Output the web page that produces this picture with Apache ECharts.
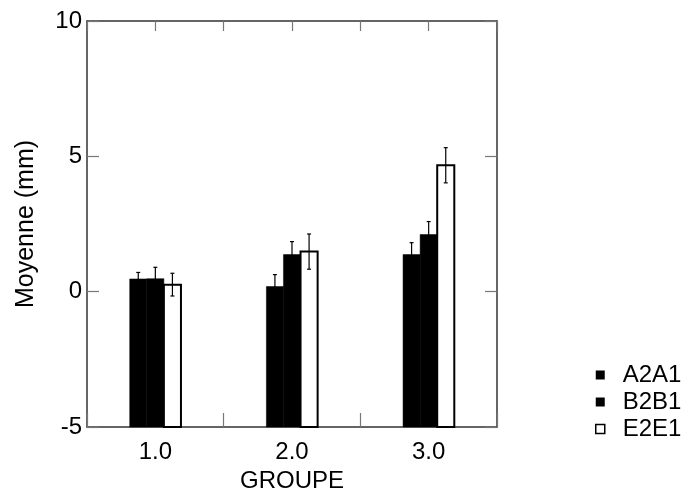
<!DOCTYPE html>
<html>
<head>
<meta charset="utf-8">
<script src="https://cdn.jsdelivr.net/npm/echarts@6/dist/echarts.min.js"></script>
<style>
  html, body { margin: 0; padding: 0; background: #fff; }
  #chart { width: 685px; height: 492px; }
</style>
</head>
<body>
<div id="chart"></div>
<script>
const categories = ['1.0', '2.0', '3.0'];
const seriesNames = ['A2A1', 'B2B1', 'E2E1'];
const a2a1 = [0.47, 0.19, 1.37];
const a2a1Err = [0.24, 0.44, 0.44];
const b2b1 = [0.48, 1.37, 2.11];
const b2b1Err = [0.42, 0.48, 0.48];
const e2e1 = [0.26, 1.48, 4.67];
const e2e1Err = [0.42, 0.65, 0.65];
const yTicks = [-5, 0, 5, 10];

const FONT = 'Liberation Sans, Arial, Helvetica, sans-serif';
const chart = echarts.init(document.getElementById('chart'));

function makeData(vals, errs) {
  return vals.map((v, i) => [i, v, errs[i]]);
}

function renderBar(params, api) {
  const cat = api.value(0), val = api.value(1), err = api.value(2);
  const band = api.size([1, 0])[0];
  const bw = band * 0.125;
  const top = api.coord([cat, val]);
  const base = api.coord([cat, -5]);
  const idx = params.seriesIndex;
  const x0 = top[0] + (idx - 1.5) * bw;
  const cx = x0 + bw / 2;
  const hi = api.coord([cat, val + err])[1];
  const lo = api.coord([cat, val - err])[1];
  const white = idx === 2;
  const cap = 2;
  return {
    type: 'group',
    children: [
      {
        type: 'rect',
        shape: { x: x0, y: top[1], width: bw, height: base[1] - top[1] },
        style: white
          ? { fill: '#fff', stroke: '#000', lineWidth: 2 }
          : { fill: '#000', stroke: '#000', lineWidth: 0.5 }
      },
      { type: 'line', shape: { x1: cx, y1: hi, x2: cx, y2: lo }, style: { stroke: '#000', lineWidth: 1.2 } },
      { type: 'line', shape: { x1: cx - cap, y1: hi, x2: cx + cap, y2: hi }, style: { stroke: '#000', lineWidth: 1.2 } },
      { type: 'line', shape: { x1: cx - cap, y1: lo, x2: cx + cap, y2: lo }, style: { stroke: '#000', lineWidth: 1.2 } }
    ]
  };
}

const axisLineStyle = { color: '#333', width: 1.5 };
const tickStyle = { color: '#777', width: 1.2 };

const option = {
  backgroundColor: '#fff',
  animation: false,
  textStyle: { fontFamily: FONT },
  grid: { left: 87, right: 188, top: 21, bottom: 65, containLabel: false, outerBoundsMode: 'none' },
  legend: {
    orient: 'vertical',
    left: 595,
    top: 363,
    padding: 0,
    icon: 'rect',
    itemWidth: 9,
    itemHeight: 9,
    itemGap: 3,
    selectedMode: false,
    textStyle: { fontFamily: FONT, fontSize: 24, color: '#000', lineHeight: 24, padding: [0, 0, 0, 13] },
    data: [
      { name: seriesNames[0], itemStyle: { color: '#000', borderWidth: 0 } },
      { name: seriesNames[1], itemStyle: { color: '#000', borderWidth: 0 } },
      { name: seriesNames[2], itemStyle: { color: '#fff', borderColor: '#000', borderWidth: 1.5 } }
    ]
  },
  xAxis: [
    {
      type: 'category',
      data: categories,
      position: 'bottom',
      name: 'GROUPE',
      nameLocation: 'middle',
      nameGap: 42,
      nameTextStyle: { fontFamily: FONT, fontSize: 24, color: '#000' },
      axisLine: { show: true, onZero: false, lineStyle: axisLineStyle },
      axisTick: { show: true, inside: true, length: 14, lineStyle: tickStyle },
      axisLabel: { fontFamily: FONT, fontSize: 24, color: '#000', margin: 13 },
      splitLine: { show: false }
    },
    {
      type: 'value',
      position: 'top',
      min: 0.5,
      max: 3.5,
      interval: 0.5,
      axisLine: { show: true, onZero: false, lineStyle: axisLineStyle },
      axisTick: { show: true, inside: true, length: 10, lineStyle: tickStyle },
      axisLabel: { show: false },
      splitLine: { show: false }
    }
  ],
  yAxis: [
    {
      type: 'value',
      position: 'left',
      min: yTicks[0],
      max: yTicks[yTicks.length - 1],
      interval: 5,
      name: 'Moyenne (mm)',
      nameLocation: 'middle',
      nameGap: 48,
      nameTextStyle: { fontFamily: FONT, fontSize: 25, color: '#000' },
      axisLine: { show: true, onZero: false, lineStyle: axisLineStyle },
      axisTick: { show: true, inside: true, length: 12, lineStyle: tickStyle },
      axisLabel: { fontFamily: FONT, fontSize: 24, color: '#000', margin: 5 },
      splitLine: { show: false }
    },
    {
      type: 'value',
      position: 'right',
      min: yTicks[0],
      max: yTicks[yTicks.length - 1],
      interval: 5,
      axisLine: { show: true, onZero: false, lineStyle: axisLineStyle },
      axisTick: { show: true, inside: true, length: 12, lineStyle: tickStyle },
      axisLabel: { show: false },
      splitLine: { show: false }
    }
  ],
  series: [
    {
      name: seriesNames[0], type: 'custom', xAxisIndex: 0, yAxisIndex: 0,
      itemStyle: { color: '#000' }, renderItem: renderBar,
      encode: { x: 0, y: 1 }, data: makeData(a2a1, a2a1Err)
    },
    {
      name: seriesNames[1], type: 'custom', xAxisIndex: 0, yAxisIndex: 0,
      itemStyle: { color: '#000' }, renderItem: renderBar,
      encode: { x: 0, y: 1 }, data: makeData(b2b1, b2b1Err)
    },
    {
      name: seriesNames[2], type: 'custom', xAxisIndex: 0, yAxisIndex: 0,
      itemStyle: { color: '#fff', borderColor: '#000', borderWidth: 1.5 }, renderItem: renderBar,
      encode: { x: 0, y: 1 }, data: makeData(e2e1, e2e1Err)
    }
  ]
};
chart.setOption(option);
</script>
</body>
</html>
